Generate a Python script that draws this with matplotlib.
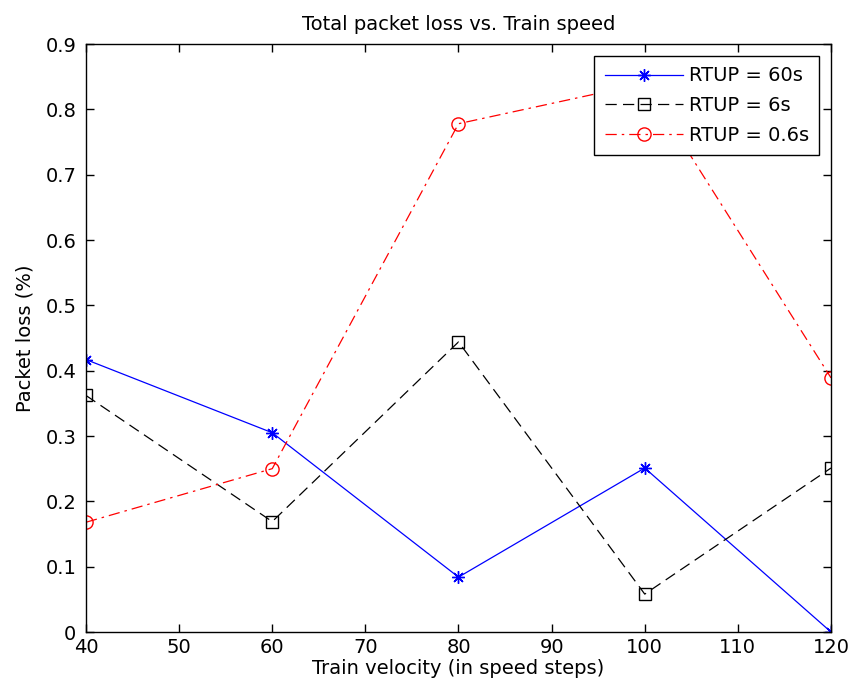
import matplotlib
matplotlib.use("Agg")
import matplotlib.pyplot as plt

# Train speed steps on the x axis
velocity = [40, 60, 80, 100, 120]

# Packet loss (%) per route-update period
loss_rtup_60s = [0.417, 0.305, 0.084, 0.251, 0.0]
loss_rtup_6s = [0.362, 0.169, 0.444, 0.058, 0.251]
loss_rtup_06s = [0.168, 0.250, 0.778, 0.840, 0.389]

series_labels = ["RTUP = 60s", "RTUP = 6s", "RTUP = 0.6s"]

plt.rcParams["font.family"] = ["DejaVu Sans"]

fig = plt.figure(figsize=(8.53, 6.97), dpi=100)
ax = fig.add_axes([86 / 853, 65 / 697, 745 / 853, 588 / 697])

ax.plot(velocity, loss_rtup_60s, color="#0000ff", linestyle="-", linewidth=0.9,
        marker=(8, 2, 0), markersize=9, markeredgewidth=1.0, label=series_labels[0])
ax.plot(velocity, loss_rtup_6s, color="black", linestyle=(0, (9, 5)), linewidth=0.9,
        marker="s", markersize=9, markerfacecolor="none", markeredgewidth=1.0,
        label=series_labels[1])
ax.plot(velocity, loss_rtup_06s, color="#ff0000", linestyle=(0, (9, 4, 2, 4)), linewidth=0.9,
        marker="o", markersize=9.5, markerfacecolor="none", markeredgewidth=1.0,
        label=series_labels[2])

ax.set_xlim(40, 120)
ax.set_ylim(0, 0.9)
ax.set_xticks(range(40, 121, 10))
ax.set_yticks([i / 10 for i in range(0, 10)])
ax.set_yticklabels(["0"] + [f"{i / 10:.1f}" for i in range(1, 10)])

ax.tick_params(direction="in", top=True, right=True, length=6, width=1,
               labelsize=14)
ax.tick_params(axis="x", pad=4)
ax.tick_params(axis="y", pad=7)
for side in ax.spines.values():
    side.set_linewidth(1.0)

ax.set_title("Total packet loss vs. Train speed", fontsize=14, pad=10)
ax.set_xlabel("Train velocity (in speed steps)", fontsize=14, labelpad=2)
ax.set_ylabel("Packet loss (%)", fontsize=14, labelpad=8)

leg = ax.legend(loc="upper right", fontsize=14, fancybox=False, framealpha=1,
                edgecolor="black", handlelength=4.0, borderaxespad=0.6,
                labelspacing=0.55, handletextpad=0.3, borderpad=0.55)
leg.get_frame().set_linewidth(1.0)

fig.savefig("out.png", dpi=100)
